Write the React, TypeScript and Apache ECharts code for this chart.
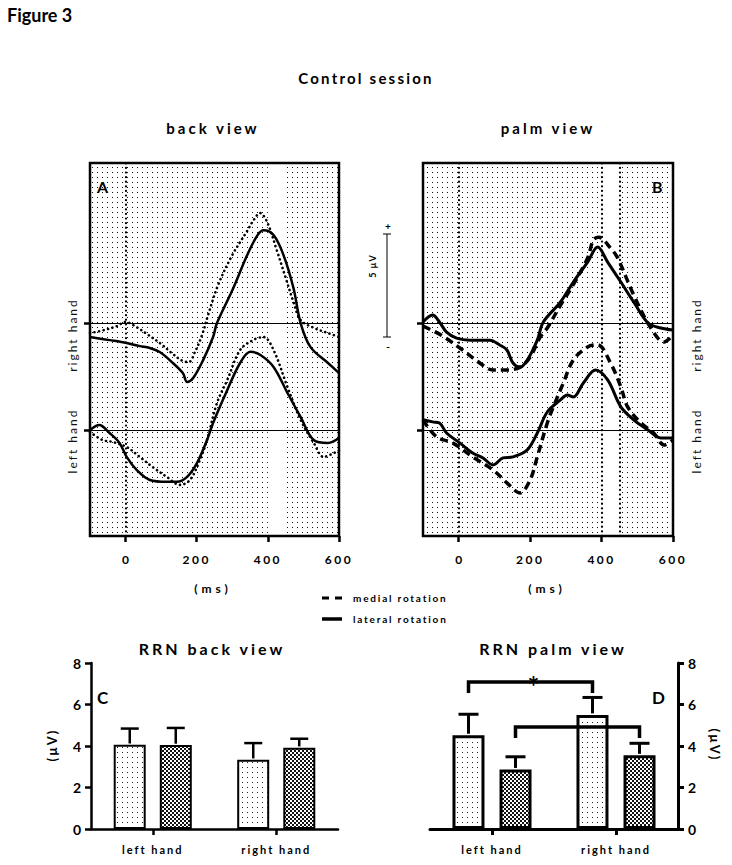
import React, { useEffect, useRef } from 'react';
import * as echarts from 'echarts';

// ---------------- ERP data (time in ms, amplitude in µV relative to the trace baseline) ----------------
const erpXTicks = [0, 200, 400, 600];
const shadeWindows = [[-100, 400], [450, 600]];
const markersA = [0];
const markersB = [0, 400, 450];
const rightHandBaseline = 0;
const leftHandBaseline = -5.19;

// Panel A (back view)
const aRightLatT = [-100, -45, 3, 40, 68, 96, 133, 161, 173, 190, 218, 246, 257, 303, 342, 371, 388, 416, 444, 472, 492, 520, 569, 600];
const aRightLatV = [-0.68, -0.83, -0.97, -1.12, -1.21, -1.41, -1.94, -2.43, -2.86, -2.67, -1.8, -0.68, 0, 1.7, 3.3, 4.27, 4.51, 4.27, 3.3, 1.7, 0, -1.17, -1.94, -2.43];
const aRightMedT = [-100, -60, -25, 0, 30, 60, 100, 130, 160, 178, 195, 215, 232, 260, 300, 340, 360, 378, 398, 425, 452, 472, 492, 530, 570, 600];
const aRightMedV = [-0.49, -0.34, -0.15, 0.05, -0.19, -0.53, -1.02, -1.46, -1.84, -1.89, -1.41, -0.58, 0.39, 1.84, 3.3, 4.42, 5.0, 5.34, 4.9, 3.54, 2.09, 1.02, 0.15, -0.24, -0.49, -0.68];
const aLeftLatT = [-100, -74, -45, -17, 3, 31, 68, 116, 144, 173, 201, 229, 246, 286, 322, 351, 379, 416, 455, 492, 529, 569, 600];
const aLeftLatV = [0, 0.24, -0.15, -0.63, -1.31, -1.94, -2.43, -2.52, -2.52, -2.28, -1.6, -0.49, 0.34, 1.94, 3.25, 3.79, 3.64, 3.06, 1.8, 0.63, -0.49, -0.63, -0.39];
const aLeftMedT = [-100, -65, -37, 3, 40, 76, 116, 153, 181, 209, 229, 257, 286, 322, 359, 388, 416, 455, 492, 529, 557, 586, 600];
const aLeftMedV = [-0.1, -0.49, -0.58, -0.83, -1.31, -1.8, -2.28, -2.67, -2.43, -1.46, -0.49, 1.31, 2.43, 3.88, 4.37, 4.51, 3.88, 2.09, 0.49, -0.63, -1.31, -1.12, -1.0];

// Panel B (palm view)
const bRightLatT = [-100, -73, -54, -34, -6, 31, 87, 115, 135, 152, 172, 192, 220, 237, 285, 321, 361, 389, 417, 454, 490, 530, 566, 600];
const bRightLatV = [0.05, 0.39, 0.05, -0.44, -0.73, -0.83, -0.83, -1.07, -1.31, -1.94, -2.14, -1.8, -0.83, 0.05, 1.02, 1.99, 2.96, 3.69, 2.96, 1.99, 1.02, 0, -0.24, -0.34];
const bRightMedT = [-100, -50, 11, 59, 96, 135, 172, 200, 228, 248, 285, 320, 361, 377, 392, 425, 445, 490, 538, 575, 600];
const bRightMedV = [-0.15, -0.58, -1.31, -1.94, -2.28, -2.28, -2.14, -1.65, -0.68, -0.24, 0.87, 1.84, 3.16, 4.03, 4.17, 3.64, 3.16, 1.36, -0.24, -0.92, -0.58];
const bLeftLatT = [-100, -73, -54, -34, 3, 39, 68, 96, 124, 152, 192, 220, 248, 285, 304, 321, 349, 383, 417, 454, 490, 530, 566, 600];
const bLeftLatV = [0.49, 0.39, 0.34, -0.15, -0.63, -1.12, -1.36, -1.7, -1.36, -1.31, -0.97, -0.15, 0.87, 1.46, 1.7, 1.6, 2.28, 2.91, 2.43, 1.12, 0.49, 0, -0.39, -0.39];
const bLeftMedT = [-100, -62, -17, 39, 96, 135, 172, 200, 220, 248, 265, 293, 321, 361, 389, 425, 454, 473, 510, 546, 575, 600];
const bLeftMedV = [0.49, -0.34, -0.63, -1.31, -1.94, -2.57, -3.06, -2.43, -1.31, 0.34, 1.12, 2.28, 3.4, 4.03, 4.13, 3.25, 2.09, 1.12, 0.34, -0.15, -0.73, -0.49];

// ---------------- RRN bar data (µV) ----------------
const barCategories = ['left hand', 'right hand'];
const barYTicks = [0, 2, 4, 6, 8];
const backMedial = [4.06, 3.34];
const backMedialErr = [0.78, 0.8];
const backLateral = [4.05, 3.92];
const backLateralErr = [0.82, 0.43];
const palmMedial = [4.52, 5.5];
const palmMedialErr = [1.01, 0.84];
const palmLateral = [2.87, 3.55];
const palmLateralErr = [0.61, 0.58];
// [fromCategory, fromBar, toCategory, toBar, bracketTop, legEnd, hasStar]
const palmBrackets = [
  [0, 0, 1, 0, 7.08, 6.55, 1],
  [0, 1, 1, 1, 4.92, 4.39, 0],
];

const LETTER_SPACING: Record<string, number> = {
  'Control session': 2.2,
  'back view': 3,
  'palm view': 3,
  '200': 2.5,
  '400': 2.5,
  '600': 2.5,
  '(ms)': 4,
  'right hand': 2,
  'left hand': 2,
  'medial rotation': 1.8,
  'lateral rotation': 1.8,
  'RRN back view': 3,
  'RRN palm view': 3,
  '(µV)': 2,
  '5 µV': 1,
};

const FONT = 'Lato';

function makePattern(kind: string): any {
  const c = document.createElement('canvas');
  const ctx = c.getContext('2d')!;
  if (kind === 'stipple') {
    c.width = 5; c.height = 5;
    ctx.fillStyle = '#111';
    ctx.fillRect(2, 2, 1, 1);
  } else if (kind === 'dots') {
    c.width = 5; c.height = 5;
    ctx.fillStyle = '#fff';
    ctx.fillRect(0, 0, 5, 5);
    ctx.fillStyle = '#222';
    ctx.fillRect(2, 2, 1, 1);
  } else {
    c.width = 4; c.height = 4;
    ctx.fillStyle = '#fff';
    ctx.fillRect(0, 0, 4, 4);
    ctx.fillStyle = '#111';
    ctx.fillRect(0, 0, 2, 2);
    ctx.fillRect(2, 2, 2, 2);
  }
  return { image: c, repeat: 'repeat', imageWidth: c.width, imageHeight: c.height };
}

function txt(text: string, x: number, y: number, font: string, align = 'center', rotation = 0, fill = '#000'): any {
  return {
    type: 'text', x, y, rotation, silent: true, z: 50,
    style: { text, x: 0, y: 0, font, fill, align, verticalAlign: 'middle', textAlign: align, textVerticalAlign: 'middle' },
  };
}

function line(x1: number, y1: number, x2: number, y2: number, lw: number, dash?: number[]): any {
  return {
    type: 'line', silent: true, z: 50,
    shape: { x1, y1, x2, y2 },
    style: { stroke: '#000', lineWidth: lw, lineDash: dash },
  };
}

function buildOption(): any {
  const stipple = makePattern('stipple');
  const dots = makePattern('dots');
  const checks = makePattern('checks');

  const erpX = (idx: number): any => ({
    type: 'value', gridIndex: idx, min: -100, max: 600,
    axisLine: { show: false, onZero: false },
    splitLine: { show: false },
    axisTick: { show: true, customValues: erpXTicks, length: 6, lineStyle: { color: '#000', width: 2.5 } },
    axisLabel: { show: true, customValues: erpXTicks, margin: 17, color: '#000', fontSize: 12, fontWeight: 'bold', fontFamily: FONT },
  });
  const erpY = (idx: number): any => ({
    type: 'value', gridIndex: idx, min: -10.34, max: 7.77,
    axisLine: { show: false, onZero: false },
    splitLine: { show: false },
    axisLabel: { show: false },
    axisTick: { show: true, customValues: [rightHandBaseline, leftHandBaseline], length: 6, lineStyle: { color: '#000', width: 2.5 } },
  });

  const markerSeries = (idx: number, verticals: number[]): any => ({
    type: 'line', xAxisIndex: idx, yAxisIndex: idx, data: [], silent: true, z: 1,
    markArea: {
      silent: true,
      itemStyle: { color: stipple, opacity: 1, borderWidth: 0 },
      data: shadeWindows.map(([a, b]) => [{ xAxis: a }, { xAxis: b }]),
    },
    markLine: {
      silent: true, symbol: ['none', 'none'], label: { show: false },
      data: [
        { yAxis: rightHandBaseline, lineStyle: { color: '#000', width: 1, type: 'solid' } },
        { yAxis: leftHandBaseline, lineStyle: { color: '#000', width: 1, type: 'solid' } },
        ...verticals.map((v) => ({ xAxis: v, lineStyle: { color: '#000', width: 2.2, type: [0.1, 4.5], cap: 'round' } })),
      ],
    },
  });

  const curve = (t: number[], v: number[], offset: number, idx: number, style: any): any => ({
    type: 'line', xAxisIndex: idx, yAxisIndex: idx,
    data: t.map((x, i) => [x, +(v[i] + offset).toFixed(3)]),
    showSymbol: false, symbol: 'none', smooth: 0.35, silent: true, z: 5,
    lineStyle: style,
  });

  const latA = { color: '#000', width: 2.5, type: 'solid' };
  const medA = { color: '#000', width: 2.6, type: [0.1, 4.5], cap: 'round' };
  const latB = { color: '#000', width: 3, type: 'solid' };
  const medB = { color: '#000', width: 3.5, type: [8, 5] };

  const barX = (idx: number, lw: number): any => ({
    type: 'category', gridIndex: idx, data: barCategories,
    axisLine: { show: true, onZero: false, lineStyle: { color: '#000', width: lw } },
    axisTick: { show: true, alignWithLabel: true, length: 6, lineStyle: { color: '#000', width: lw } },
    axisLabel: { color: '#000', fontSize: 11, fontWeight: 'bold', fontFamily: FONT, margin: 15 },
    splitLine: { show: false },
  });
  const barY = (idx: number, lw: number, pos: string): any => ({
    type: 'value', gridIndex: idx, min: 0, max: 8, interval: 2, position: pos,
    axisLine: { show: true, onZero: false, lineStyle: { color: '#000', width: lw } },
    axisTick: { show: true, length: 6, lineStyle: { color: '#000', width: lw } },
    axisLabel: { color: '#000', fontSize: 14, fontWeight: 'bold', fontFamily: FONT, margin: 10, customValues: barYTicks },
    splitLine: { show: false },
  });

  const bar = (idx: number, values: number[], fill: any, bw: number, gap: string): any => ({
    type: 'bar', xAxisIndex: idx, yAxisIndex: idx, data: values, barWidth: 32, barGap: gap,
    silent: true, z: 2,
    itemStyle: { color: fill, borderColor: '#000', borderWidth: bw },
  });

  const errs = (idx: number, values: number[], errors: number[], sign: number, offset: number, lw: number, capW: number): any => ({
    type: 'custom', xAxisIndex: idx, yAxisIndex: idx, silent: true, z: 3, clip: false,
    data: values.map((v, i) => [i, v, errors[i]]),
    renderItem: (params: any, api: any) => {
      const i = api.value(0);
      const v = api.value(1);
      const e = api.value(2);
      const base = api.coord([i, v]);
      const top = api.coord([i, v + e]);
      const x = base[0] + sign * offset;
      return {
        type: 'group',
        children: [
          { type: 'line', shape: { x1: x, y1: base[1] - lw / 2, x2: x, y2: top[1] }, style: { stroke: '#000', lineWidth: lw } },
          { type: 'line', shape: { x1: x - capW / 2, y1: top[1], x2: x + capW / 2, y2: top[1] }, style: { stroke: '#000', lineWidth: lw } },
        ],
      };
    },
  });

  const brackets = (idx: number, offset: number, lw: number): any => ({
    type: 'custom', xAxisIndex: idx, yAxisIndex: idx, silent: true, z: 4, clip: false,
    data: palmBrackets,
    renderItem: (params: any, api: any) => {
      const fc = api.value(0), fb = api.value(1), tc = api.value(2), tb = api.value(3);
      const topV = api.value(4), legV = api.value(5), star = api.value(6);
      const p1 = api.coord([fc, topV]);
      const p2 = api.coord([tc, topV]);
      const legY = api.coord([fc, legV])[1];
      const x1 = p1[0] + (fb === 0 ? -offset : offset);
      const x2 = p2[0] + (tb === 0 ? -offset : offset);
      const children: any[] = [
        {
          type: 'polyline',
          shape: { points: [[x1, legY], [x1, p1[1]], [x2, p1[1]], [x2, legY]] },
          style: { stroke: '#000', lineWidth: lw, fill: 'none', lineJoin: 'miter' },
        },
      ];
      if (star) {
        children.push({
          type: 'text', x: (x1 + x2) / 2 + 3, y: p1[1] + 4,
          style: { text: '*', font: `bold 28px ${FONT}`, fill: '#000', align: 'center', verticalAlign: 'middle' },
        });
      }
      return { type: 'group', children };
    },
  });

  const graphics: any[] = [
    txt('Figure 3', 7, 15, `bold 18px ${FONT}`, 'left'),
    txt('Control session', 366, 78, `bold 15px ${FONT}`),
    txt('back view', 213, 128, `bold 15px ${FONT}`),
    txt('palm view', 548, 128, `bold 15px ${FONT}`),
    txt('A', 97, 186, `bold 16px ${FONT}`, 'left'),
    txt('B', 652, 186, `bold 16px ${FONT}`, 'left'),
    txt('(ms)', 213, 588, `bold 12px ${FONT}`),
    txt('(ms)', 547, 588, `bold 12px ${FONT}`),
    txt('right hand', 72, 335, `12px ${FONT}`, 'center', Math.PI / 2, '#111'),
    txt('left hand', 72, 441, `12px ${FONT}`, 'center', Math.PI / 2, '#111'),
    txt('right hand', 696, 335, `12px ${FONT}`, 'center', Math.PI / 2, '#111'),
    txt('left hand', 696, 441, `12px ${FONT}`, 'center', Math.PI / 2, '#111'),
    // scale bar
    line(387, 234, 387, 337, 1),
    line(383, 234, 391, 234, 1),
    line(383, 337, 391, 337, 1),
    txt('+', 388, 226, `bold 10px ${FONT}`),
    txt('-', 388, 346, `bold 10px ${FONT}`),
    txt('5 µV', 372, 266, `bold 9px ${FONT}`, 'center', Math.PI / 2),
    // legend
    line(322, 598, 342, 598, 3, [7, 6]),
    txt('medial rotation', 353, 598, `bold 10px ${FONT}`, 'left'),
    line(322, 619, 342, 619, 3.5),
    txt('lateral rotation', 353, 619, `bold 10px ${FONT}`, 'left'),
    // bar panels
    txt('RRN back view', 212, 648, `bold 16px ${FONT}`),
    txt('RRN palm view', 553, 648, `bold 16px ${FONT}`),
    txt('C', 97, 697, `bold 17px ${FONT}`, 'left'),
    txt('D', 652, 697, `bold 17px ${FONT}`, 'left'),
    txt('(µV)', 52, 745, `bold 13px ${FONT}`, 'center', Math.PI / 2),
    txt('(µV)', 715, 745, `bold 13px ${FONT}`, 'center', -Math.PI / 2),
  ];

  const gridBase = { show: false, containLabel: false, outerBoundsMode: 'none' };

  return {
    animation: false,
    backgroundColor: '#fff',
    textStyle: { fontFamily: FONT },
    grid: [
      { ...gridBase, show: true, left: 90, top: 163, width: 249, height: 373, borderColor: '#000', borderWidth: 2.5, backgroundColor: 'transparent' },
      { ...gridBase, show: true, left: 423, top: 163, width: 250, height: 373, borderColor: '#000', borderWidth: 2.5, backgroundColor: 'transparent' },
      { ...gridBase, left: 91, top: 663, width: 247, height: 166 },
      { ...gridBase, left: 430, top: 663, width: 248, height: 166 },
    ],
    xAxis: [erpX(0), erpX(1), barX(2, 2.5), barX(3, 3)],
    yAxis: [erpY(0), erpY(1), barY(2, 2.5, 'left'), barY(3, 3, 'right')],
    series: [
      markerSeries(0, markersA),
      curve(aRightMedT, aRightMedV, rightHandBaseline, 0, medA),
      curve(aRightLatT, aRightLatV, rightHandBaseline, 0, latA),
      curve(aLeftMedT, aLeftMedV, leftHandBaseline, 0, medA),
      curve(aLeftLatT, aLeftLatV, leftHandBaseline, 0, latA),
      markerSeries(1, markersB),
      curve(bRightMedT, bRightMedV, rightHandBaseline, 1, medB),
      curve(bRightLatT, bRightLatV, rightHandBaseline, 1, latB),
      curve(bLeftMedT, bLeftMedV, leftHandBaseline, 1, medB),
      curve(bLeftLatT, bLeftLatV, leftHandBaseline, 1, latB),
      bar(2, backMedial, dots, 2, '44%'),
      bar(2, backLateral, checks, 2, '44%'),
      errs(2, backMedial, backMedialErr, -1, 23, 2.5, 18),
      errs(2, backLateral, backLateralErr, 1, 23, 2.5, 18),
      bar(3, palmMedial, dots, 3, '47%'),
      bar(3, palmLateral, checks, 3, '47%'),
      errs(3, palmMedial, palmMedialErr, -1, 23.5, 3, 20),
      errs(3, palmLateral, palmLateralErr, 1, 23.5, 3, 20),
      brackets(3, 23.5, 3.5),
    ],
    graphic: { elements: graphics },
  };
}

function applySpacing(root: HTMLElement | null) {
  if (!root) return;
  root.querySelectorAll('text').forEach((t) => {
    const key = (t.textContent || '').trim();
    const s = LETTER_SPACING[key];
    if (s) t.setAttribute('letter-spacing', String(s));
  });
}

export default function App() {
  const ref = useRef<HTMLDivElement>(null);
  useEffect(() => {
    document.body.style.margin = '0';
    const el = ref.current!;
    const chart = echarts.init(el, null, { renderer: 'svg' });
    chart.setOption(buildOption());
    applySpacing(el);
    chart.on('finished', () => applySpacing(el));
    const raf = requestAnimationFrame(() => applySpacing(el));
    const tm = setTimeout(() => applySpacing(el), 50);
    return () => {
      cancelAnimationFrame(raf);
      clearTimeout(tm);
      chart.dispose();
    };
  }, []);
  return <div ref={ref} style={{ width: 732, height: 865 }} />;
}
